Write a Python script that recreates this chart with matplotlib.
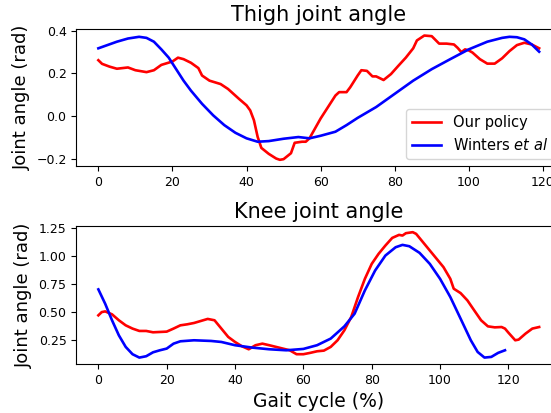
import numpy as np
import matplotlib
matplotlib.use('Agg')
import matplotlib.pyplot as plt

# ── Data (gait cycle %, joint angle in rad) ───────────────────────────────────
thigh_policy_x = [0, 1, 3, 5, 8, 10, 13, 15, 17, 20, 21.5, 23, 25, 27, 28, 30, 33, 35,
                  38, 40, 41, 42, 43, 44, 46, 48, 49, 50, 52, 53, 55, 56, 57, 58, 60,
                  62, 64, 65, 67, 68, 70, 71, 72.5, 74, 75, 77, 79, 81, 83, 85, 86,
                  88, 90, 92, 94, 96, 97, 98, 99, 100, 101, 103, 105, 107, 109, 111,
                  113, 115, 117, 119]
thigh_policy_y = [0.262, 0.245, 0.232, 0.222, 0.228, 0.215, 0.206, 0.215, 0.240, 0.256,
                  0.274, 0.267, 0.250, 0.225, 0.190, 0.166, 0.150, 0.127, 0.080, 0.050,
                  0.026, -0.020, -0.098, -0.150, -0.178, -0.200, -0.206, -0.203, -0.175,
                  -0.126, -0.121, -0.121, -0.105, -0.074, -0.012, 0.042, 0.096, 0.112,
                  0.112, 0.135, 0.190, 0.215, 0.212, 0.186, 0.186, 0.169, 0.197, 0.236,
                  0.274, 0.318, 0.355, 0.378, 0.375, 0.340, 0.340, 0.336, 0.320, 0.300,
                  0.313, 0.308, 0.298, 0.267, 0.246, 0.246, 0.271, 0.305, 0.333, 0.344,
                  0.336, 0.318]

thigh_winters_x = [0, 5, 8, 11, 13, 15, 17, 19, 21, 23, 25, 28, 31, 34, 37, 40, 43, 46,
                   50, 54, 57, 60, 64, 67, 70, 75, 80, 85, 90, 95, 100, 105, 109, 111,
                   113, 115, 117, 119]
thigh_winters_y = [0.318, 0.349, 0.364, 0.372, 0.367, 0.349, 0.313, 0.274, 0.220, 0.166,
                   0.119, 0.057, 0.003, -0.043, -0.079, -0.105, -0.121, -0.118, -0.107,
                   -0.099, -0.105, -0.093, -0.074, -0.043, -0.009, 0.042, 0.104, 0.166,
                   0.220, 0.267, 0.313, 0.349, 0.367, 0.372, 0.370, 0.360, 0.336, 0.302]

knee_policy_x = [0, 1, 2, 4, 6, 8, 10, 12, 14, 16, 18, 20, 22, 24, 26, 28, 30, 32, 34,
                 36, 38, 40, 42, 44, 46, 48, 50, 52, 54, 56, 58, 60, 62, 64, 66, 68,
                 70, 72, 74, 76, 78, 80, 82, 84, 86, 88, 89, 90, 92, 93, 95, 97, 99,
                 101, 103, 104, 106, 108, 110, 112, 114, 116, 118, 119, 120, 122, 123,
                 125, 127, 129]
knee_policy_y = [0.472, 0.501, 0.507, 0.481, 0.428, 0.383, 0.354, 0.333, 0.333, 0.321,
                 0.324, 0.327, 0.354, 0.383, 0.392, 0.404, 0.422, 0.440, 0.428, 0.354,
                 0.280, 0.235, 0.197, 0.170, 0.206, 0.220, 0.206, 0.191, 0.176, 0.161,
                 0.126, 0.126, 0.138, 0.152, 0.158, 0.191, 0.250, 0.339, 0.457, 0.635,
                 0.797, 0.930, 1.019, 1.093, 1.161, 1.188, 1.182, 1.203, 1.212, 1.197,
                 1.123, 1.049, 0.975, 0.901, 0.797, 0.709, 0.670, 0.605, 0.516, 0.428,
                 0.374, 0.365, 0.368, 0.354, 0.318, 0.250, 0.256, 0.309, 0.354, 0.368]

knee_winters_x = [0, 2, 4, 6, 8, 10, 12, 14, 16, 18, 20, 22, 24, 28, 33, 36, 40, 45,
                  50, 55, 60, 64, 68, 72, 75, 78, 81, 84, 87, 89, 91, 94, 97, 100, 103,
                  106, 109, 111, 113, 115, 117, 119]
knee_winters_y = [0.703, 0.575, 0.428, 0.294, 0.191, 0.126, 0.096, 0.108, 0.143, 0.161,
                  0.176, 0.220, 0.241, 0.250, 0.244, 0.235, 0.206, 0.185, 0.170, 0.161,
                  0.173, 0.206, 0.265, 0.374, 0.487, 0.694, 0.871, 1.004, 1.078, 1.099,
                  1.087, 1.028, 0.930, 0.797, 0.635, 0.443, 0.250, 0.146, 0.096, 0.102,
                  0.138, 0.161]

LW = 1.9
fig = plt.figure(figsize=(5.51, 4.13), dpi=100)
# axes run past the right edge, as in the cropped reference
ax1 = fig.add_axes([0.1385, 0.598, 0.880, 0.331])
ax2 = fig.add_axes([0.1385, 0.119, 0.880, 0.334])

ax1.plot(thigh_policy_x, thigh_policy_y, color='red', lw=LW, label='Our policy')
ax1.plot(thigh_winters_x, thigh_winters_y, color='blue', lw=LW, label=r'Winters $et\ al$')
ax1.set_title('Thigh joint angle', fontsize=15)
ax1.set_ylabel('Joint angle (rad)', fontsize=13)
ax1.set_xticks([0, 20, 40, 60, 80, 100, 120])
ax1.set_yticks([-0.2, 0.0, 0.2, 0.4])
ax1.tick_params(labelsize=9)
ax1.legend(loc='lower right', fontsize=10.5)

ax2.plot(knee_policy_x, knee_policy_y, color='red', lw=LW)
ax2.plot(knee_winters_x, knee_winters_y, color='blue', lw=LW)
ax2.set_title('Knee joint angle', fontsize=15)
ax2.set_ylabel('Joint angle (rad)', fontsize=13)
ax2.set_xlabel('Gait cycle (%)', fontsize=13.5)
ax2.set_xticks([0, 20, 40, 60, 80, 100, 120])
ax2.set_yticks([0.25, 0.5, 0.75, 1.0, 1.25])
ax2.tick_params(labelsize=9)

fig.savefig('out.png', dpi=100)
